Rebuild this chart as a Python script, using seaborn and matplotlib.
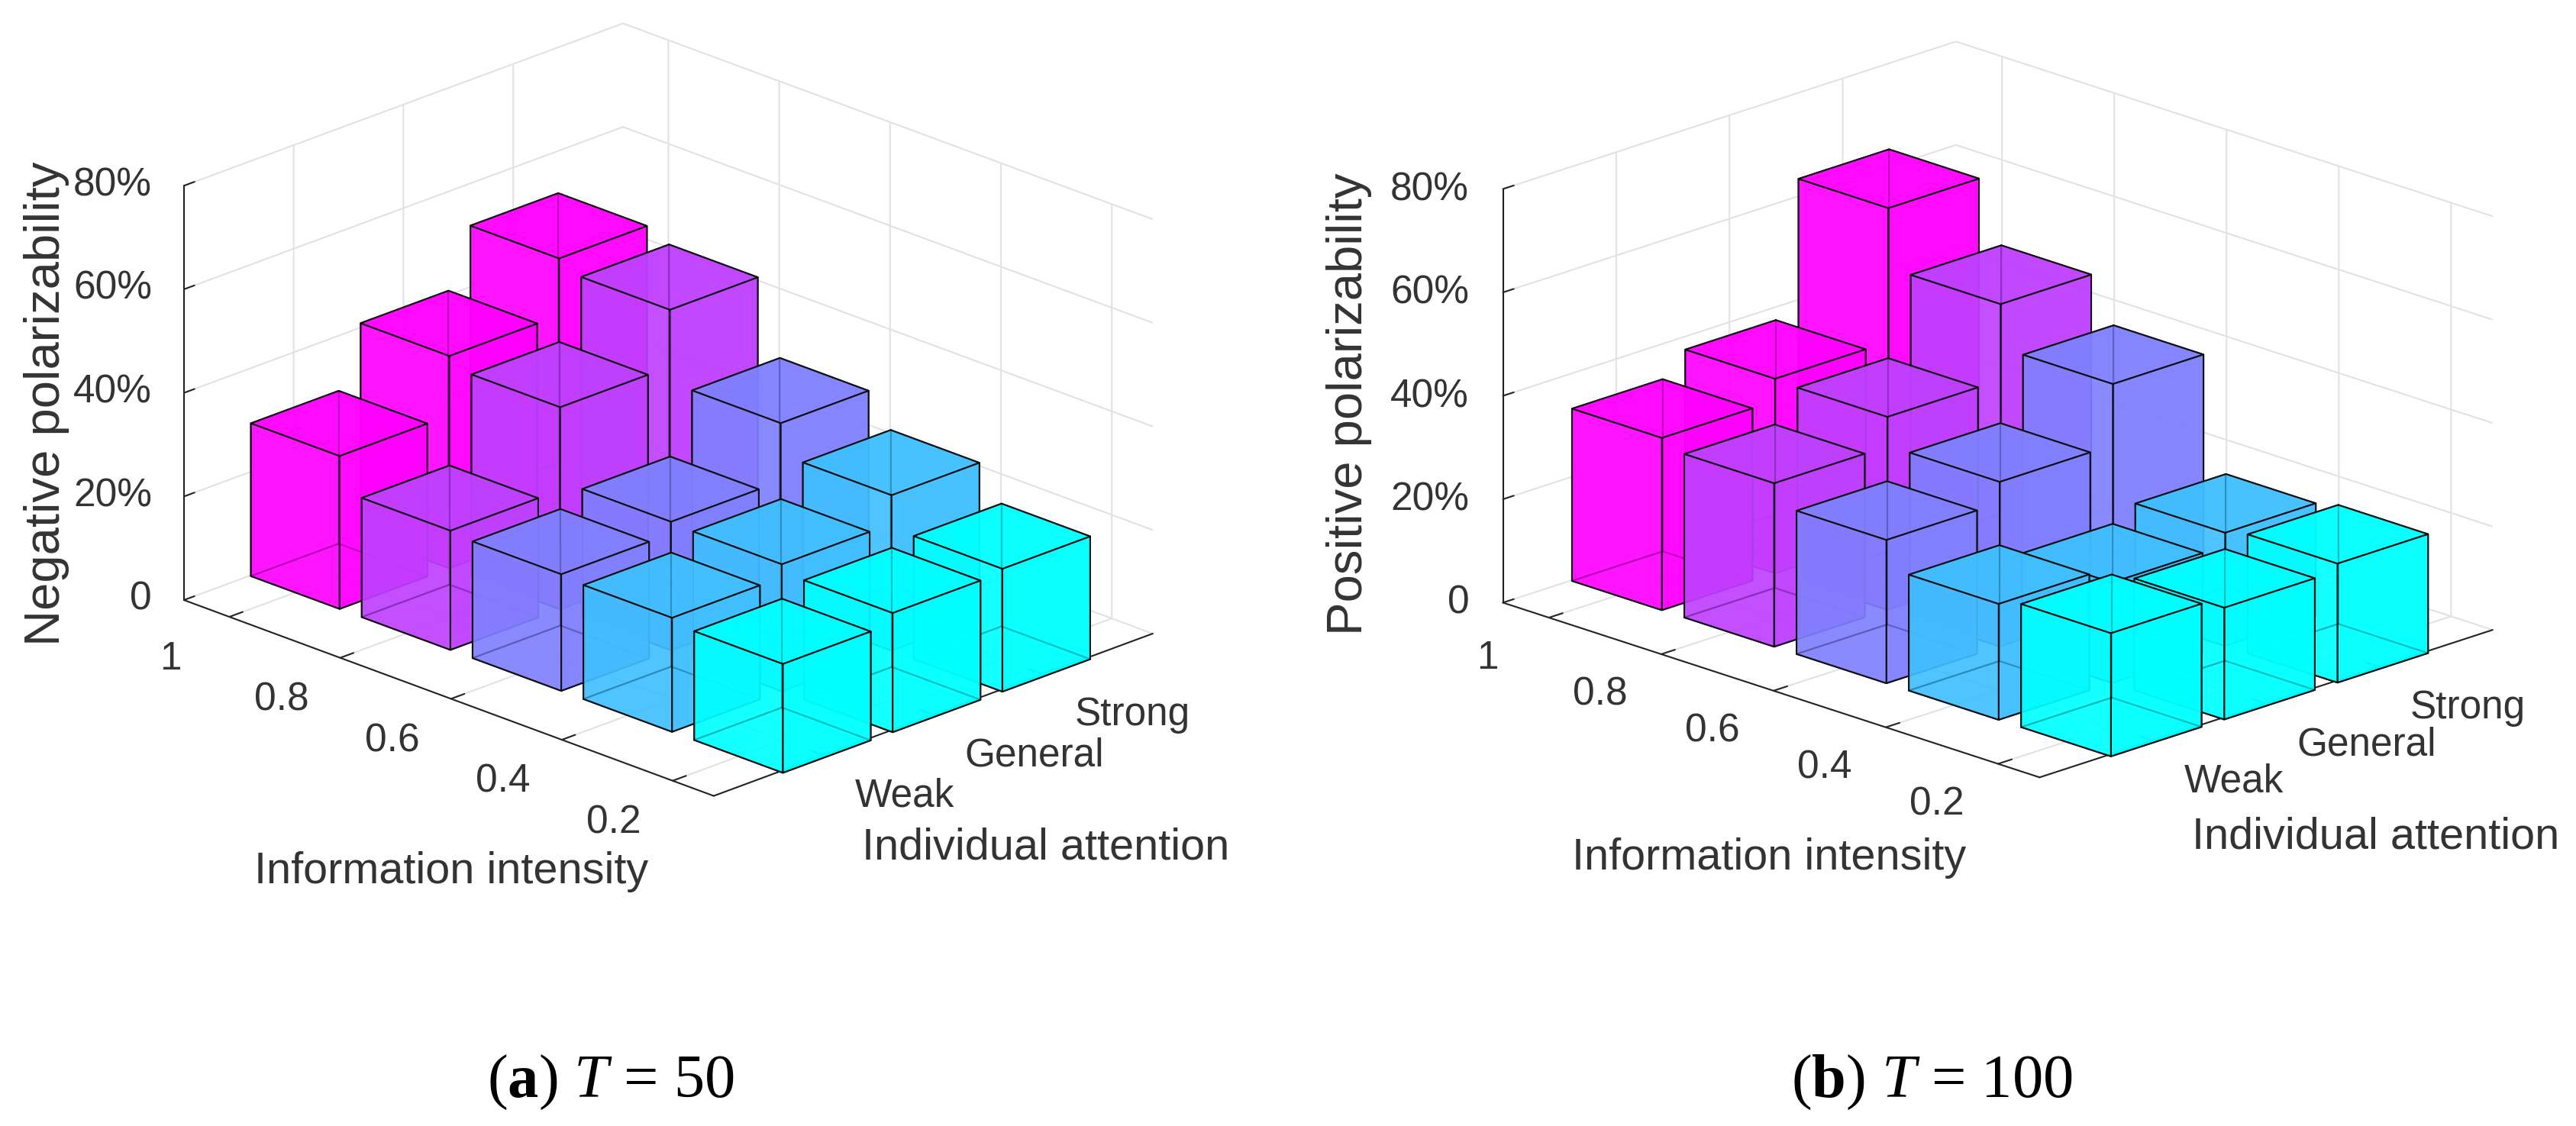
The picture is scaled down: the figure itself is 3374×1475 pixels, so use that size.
import numpy as np
import matplotlib
matplotlib.use("Agg")
import matplotlib.pyplot as plt
from matplotlib.ticker import NullFormatter
from mpl_toolkits.mplot3d import proj3d
import seaborn as sns

sns.set_theme(style="white")
plt.rcParams['font.family'] = ['Liberation Sans', 'DejaVu Sans']
plt.rcParams['mathtext.fontset'] = 'custom'
plt.rcParams['mathtext.rm'] = 'Liberation Serif'
plt.rcParams['mathtext.it'] = 'Liberation Serif:italic'
plt.rcParams['mathtext.bf'] = 'Liberation Serif:bold'

W, H = 3374, 1475

intensity_labels = ['1', '0.8', '0.6', '0.4', '0.2']
attention_labels = ['Weak', 'General', 'Strong']
z_ticks = [0, 20, 40, 60, 80]
z_labels = ['0', '20%', '40%', '60%', '80%']
bar_colors = ['#ff00ff', '#bf40ff', '#8080ff', '#40bfff', '#00ffff']

# rows = attention (weak, general, strong), columns = intensity (1 ... 0.2)
neg_weak = [29.5, 23.0, 22.5, 22.0, 21.0]
neg_general = [41.0, 39.0, 24.8, 24.5, 23.0]
neg_strong = [52.0, 50.0, 36.0, 30.0, 23.7]

pos_weak = [33.3, 31.6, 27.7, 22.4, 23.8]
pos_general = [37.6, 37.3, 31.8, 19.4, 21.6]
pos_strong = [63.5, 52.0, 43.6, 21.9, 23.0]

X_MIN, X_MAX = 0.59, 5.37
Y_MIN, Y_MAX = 0, 4
BAR_W = 0.8
txt = '#333333'


def px(x, y):
    return x / W, 1 - y / H


def make_axes(cx, cy, side):
    ax = fig.add_axes([(cx - side / 2) / W, 1 - (cy + side / 2) / H, side / W, side / H],
                      projection='3d', proj_type='ortho')
    ax.patch.set_alpha(0)
    return ax


def draw_bar(ax, x, y, height, color, order):
    x0, y0 = x - BAR_W / 2, y - BAR_W / 2
    x1, y1 = x0 + BAR_W, y0 + BAR_W
    # faces: bottom, top, -y, +y, -x, +x; the far ones stay see-through
    alphas = [0, 0.96, 0.92, 0, 0, 0.96]
    ax.bar3d(x0, y0, 0, BAR_W, BAR_W, height, color=[(*color, a) for a in alphas],
             edgecolor='#111111', linewidth=1.5, shade=False, zorder=order)
    # the three hidden edges show through the faces
    for xs, ys, zs in [([x0, x1], [y1, y1], [0, 0]), ([x0, x0], [y0, y1], [0, 0]), ([x0, x0], [y1, y1], [0, height])]:
        ax.plot(xs, ys, zs, color='black', alpha=0.22, lw=1.5, zorder=order)


def label_at(ax, x, y, z, text, ha):
    xp, yp, _ = proj3d.proj_transform(x, y, z, ax.get_proj())
    ax.text2D(xp, yp, text, transform=ax.transData, fontsize=37, color=txt, ha=ha, va='center', zorder=100)


def draw_panel(ax, rows, elev, aspect, x_off, y_off, z_off):
    ax.computed_zorder = False
    ax.view_init(elev=elev, azim=-45)
    ax.set_box_aspect(aspect)
    palette = sns.color_palette(bar_colors)
    order = 1
    # back to front so the see-through faces stack properly
    for j in [2, 1, 0]:
        for i in range(5):
            draw_bar(ax, i + 1, j + 1, rows[j][i], palette[i], order)
            order += 1
    ax.set_xlim(X_MIN, X_MAX, view_margin=0)
    ax.set_ylim(Y_MIN, Y_MAX, view_margin=0)
    ax.set_zlim(0, 80, view_margin=0)
    ax.set_xticks(range(1, 6))
    ax.set_yticks(range(1, 4))
    ax.set_zticks(z_ticks)
    ax.zaxis.set_ticks_position('lower')
    out = {'x': 0.38, 'y': 0.3, 'z': 0.3}
    for name, axis in zip('xyz', [ax.xaxis, ax.yaxis, ax.zaxis]):
        axis.set_pane_color((1, 1, 1, 0))
        axis.pane.set_edgecolor('#dcdcdc')
        axis.line.set_color('#222222')
        axis.line.set_linewidth(1.5)
        axis._axinfo['grid'].update(color='#e2e2e2', linewidth=1.5)
        axis._axinfo['tick'].update(inward_factor=0.0, outward_factor=out[name],
                                    linewidth={True: 1.5, False: 1.0}, color='#222222')
        axis.set_major_formatter(NullFormatter())
    ax.grid(True)

    # tick labels sit a fixed data offset from their tick
    for i, lab in enumerate(intensity_labels):
        label_at(ax, i + 1 + x_off[0], Y_MIN + x_off[1], 0, lab, 'center')
    for j, lab in enumerate(attention_labels):
        label_at(ax, X_MAX + y_off[0], j + 1 + y_off[1], 0, lab, 'left')
    for z, lab in zip(z_ticks, z_labels):
        label_at(ax, X_MIN + z_off[0], Y_MIN + z_off[1], z, lab, 'right')


fig = plt.figure(figsize=(W / 100, H / 100), dpi=100, facecolor='white')

ax1 = make_axes(857, 555, 1361)
draw_panel(ax1, [neg_weak, neg_general, neg_strong], 21.7, (981, 813, 584),
           (0.25, -0.79), (0.64, -0.36), (-0.15, -0.14))
ax2 = make_axes(2598, 555, 1380)
draw_panel(ax2, [pos_weak, pos_general, pos_strong], 19, (994, 839, 573),
           (0.28, -0.82), (0.70, -0.42), (-0.14, -0.16))

fig.text(*px(61, 529), 'Negative polarizability', rotation=90, fontsize=47, color=txt, ha='center', va='center')
fig.text(*px(591, 1142), 'Information intensity', fontsize=41.5, color=txt, ha='center', va='center')
fig.text(*px(1370, 1110), 'Individual attention', fontsize=41.5, color=txt, ha='center', va='center')
fig.text(*px(1687 + 80, 529), 'Positive polarizability', rotation=90, fontsize=47, color=txt, ha='center', va='center')
fig.text(*px(1687 + 630, 1124), 'Information intensity', fontsize=41.5, color=txt, ha='center', va='center')
fig.text(*px(1687 + 1425, 1096), 'Individual attention', fontsize=41.5, color=txt, ha='center', va='center')

fig.text(*px(800, 1418), r'($\mathbf{a}$) $\mathit{T}$ = 50', fontsize=58, color='black',
         family='Liberation Serif', ha='center', va='center')
fig.text(*px(2530, 1418), r'($\mathbf{b}$) $\mathit{T}$ = 100', fontsize=58, color='black',
         family='Liberation Serif', ha='center', va='center')

fig.savefig('out.png', dpi=100)
